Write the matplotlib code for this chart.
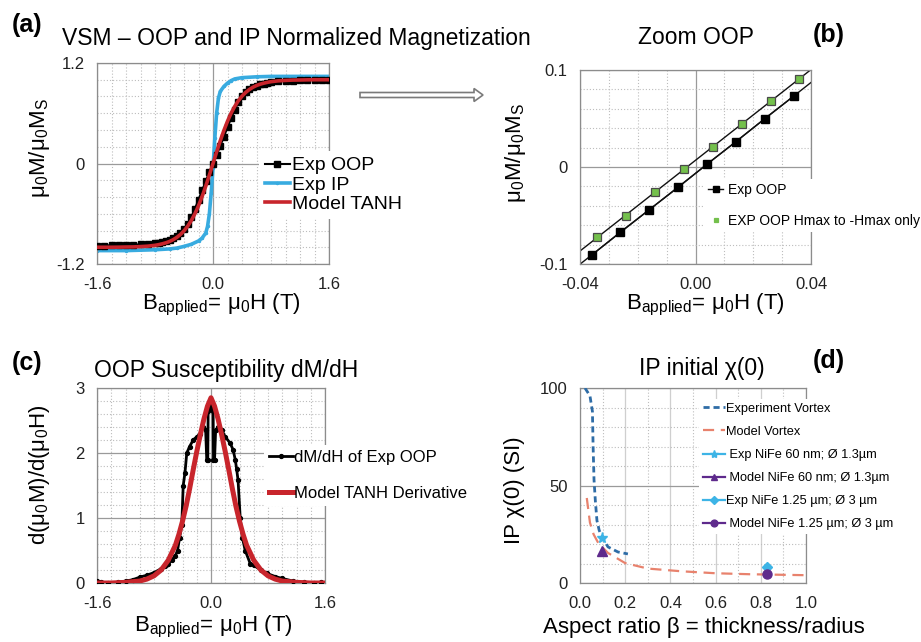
import numpy as np
import matplotlib
matplotlib.use('Agg')
import matplotlib.pyplot as plt
from matplotlib.patches import FancyArrow
from matplotlib.ticker import MultipleLocator

plt.rcParams['font.family'] = ['Liberation Sans', 'DejaVu Sans']
plt.rcParams['mathtext.fontset'] = 'custom'
plt.rcParams['mathtext.rm'] = 'Liberation Sans'
plt.rcParams['mathtext.it'] = 'Liberation Sans:italic'
plt.rcParams['mathtext.bf'] = 'Liberation Sans:bold'

# ---------------- data ----------------
# (a) normalized magnetization
B_a = [-1.6, -1.5, -1.4, -1.3, -1.2, -1.1, -1.0, -0.9, -0.8, -0.75, -0.7, -0.65, -0.6, -0.55,
       -0.5, -0.45, -0.4, -0.35, -0.3, -0.25, -0.2, -0.15, -0.1, -0.05, 0.0, 0.05, 0.1, 0.15,
       0.2, 0.25, 0.3, 0.35, 0.4, 0.45, 0.5, 0.55, 0.6, 0.65, 0.7, 0.75, 0.8, 0.9, 1.0, 1.1,
       1.2, 1.3, 1.4, 1.5, 1.6]
M_exp_oop = [-0.98, -0.98, -0.975, -0.975, -0.97, -0.97, -0.965, -0.96, -0.95, -0.945, -0.935,
             -0.925, -0.91, -0.89, -0.865, -0.83, -0.78, -0.72, -0.64, -0.54, -0.43, -0.32,
             -0.21, -0.10, 0.0, 0.10, 0.21, 0.32, 0.43, 0.54, 0.64, 0.73, 0.80, 0.85, 0.885,
             0.91, 0.93, 0.945, 0.955, 0.965, 0.97, 0.98, 0.985, 0.99, 0.995, 1.0, 1.0, 1.0, 1.0]
M_model_tanh = [-1.0, -1.0, -1.0, -0.999, -0.997, -0.996, -0.992, -0.987, -0.977, -0.969, -0.959,
                -0.947, -0.931, -0.910, -0.883, -0.848, -0.804, -0.750, -0.682, -0.601, -0.505,
                -0.394, -0.271, -0.138, 0.0, 0.138, 0.271, 0.394, 0.505, 0.601, 0.682, 0.750,
                0.804, 0.848, 0.883, 0.910, 0.931, 0.947, 0.959, 0.969, 0.977, 0.987, 0.992,
                0.996, 0.997, 0.999, 1.0, 1.0, 1.0]
B_ip = [-1.6, -1.2, -0.8, -0.6, -0.5, -0.4, -0.3, -0.2, -0.15, -0.1, -0.075, -0.05, -0.025, 0.0,
        0.025, 0.05, 0.075, 0.1, 0.15, 0.2, 0.25, 0.3, 0.4, 0.6, 0.8, 1.2, 1.6]
M_exp_ip = [-1.04, -1.04, -1.03, -1.02, -1.01, -0.99, -0.965, -0.925, -0.89, -0.83, -0.75, -0.6,
            -0.35, -0.05, 0.3, 0.6, 0.78, 0.86, 0.92, 0.96, 0.99, 1.01, 1.025, 1.035, 1.04, 1.04, 1.04]

# (b) zoom OOP
B_b_oop = [-0.036, -0.026, -0.016, -0.006, 0.004, 0.014, 0.024, 0.034]
M_b_oop = [-0.091, -0.067, -0.044, -0.021, 0.003, 0.026, 0.050, 0.073]
B_b_hmax = [-0.034, -0.024, -0.014, -0.004, 0.006, 0.016, 0.026, 0.036]
M_b_hmax = [-0.072, -0.050, -0.026, -0.002, 0.021, 0.044, 0.068, 0.091]

# (c) susceptibility
B_c = [-1.6, -1.55, -1.45, -1.3, -1.2, -1.1, -1.0, -0.9, -0.8, -0.7, -0.65, -0.6, -0.55, -0.5,
       -0.47, -0.44, -0.41, -0.39, -0.365, -0.34, -0.3, -0.25, -0.2, -0.15, -0.11, -0.075,
       -0.06, -0.045, -0.04, -0.02, 0.0, 0.02, 0.03, 0.035, 0.05, 0.065, 0.1, 0.15, 0.2, 0.27,
       0.31, 0.34, 0.36, 0.38, 0.41, 0.44, 0.48, 0.55, 0.6, 0.7, 0.78, 0.9, 1.0, 1.15, 1.3,
       1.45, 1.55]
dM_exp = [0.03, 0.02, 0.0, 0.01, 0.03, 0.05, 0.09, 0.12, 0.16, 0.22, 0.26, 0.30, 0.36, 0.42,
          0.50, 0.70, 0.90, 1.50, 1.70, 2.00, 2.10, 2.20, 2.25, 2.30, 2.40, 2.35, 1.90, 1.90,
          2.65, 2.75, 2.70, 2.75, 2.65, 1.90, 1.90, 2.35, 2.40, 2.35, 2.25, 2.15, 2.05, 1.90,
          1.75, 1.58, 1.00, 0.70, 0.50, 0.30, 0.27, 0.20, 0.15, 0.10, 0.07, 0.03, 0.01, 0.0, 0.01]
B_cm = [-1.6, -1.4, -1.2, -1.0, -0.9, -0.8, -0.7, -0.6, -0.5, -0.45, -0.4, -0.35, -0.3, -0.25,
        -0.2, -0.15, -0.1, -0.05, 0.0, 0.05, 0.1, 0.15, 0.2, 0.25, 0.3, 0.35, 0.4, 0.45, 0.5,
        0.6, 0.7, 0.8, 0.9, 1.0, 1.2, 1.4, 1.6]
dM_model = [0.0, 0.0, 0.01, 0.03, 0.06, 0.11, 0.20, 0.35, 0.58, 0.75, 0.95, 1.18, 1.45, 1.74,
            2.02, 2.28, 2.52, 2.72, 2.85, 2.72, 2.52, 2.28, 2.02, 1.74, 1.45, 1.18, 0.95, 0.75,
            0.58, 0.35, 0.20, 0.11, 0.06, 0.03, 0.01, 0.0, 0.0]

# (d) IP initial susceptibility
beta_exp_vortex = [0.022, 0.044, 0.055, 0.058, 0.062, 0.068, 0.075, 0.085, 0.097, 0.124, 0.168, 0.212]
chi_exp_vortex = [100, 96, 88, 70, 53, 42, 32, 27, 23.6, 18.5, 15.9, 14.9]
beta_model_vortex = [0.03, 0.044, 0.06, 0.081, 0.124, 0.2, 0.3, 0.45, 0.6, 0.75, 0.9, 1.0]
chi_model_vortex = [43.6, 31, 25, 20.5, 15.4, 10.2, 7.4, 6.0, 5.0, 4.5, 4.2, 4.0]
beta_60 = [0.097]
chi_exp_60 = [23.0]
chi_model_60 = [16.4]
beta_125 = [0.826]
chi_exp_125 = [8.4]
chi_model_125 = [4.6]

# ---------------- figure ----------------
W, H = 921, 642
fig = plt.figure(figsize=(W / 100, H / 100), dpi=100)


def ax_at(l, t, r, b):
    return fig.add_axes([l / W, 1 - b / H, (r - l) / W, (b - t) / H])


def style(ax, xmaj, xmin, ymaj, ymin):
    ax.set_xticks(xmaj)
    ax.set_yticks(ymaj)
    ax.xaxis.set_minor_locator(MultipleLocator(xmin))
    ax.yaxis.set_minor_locator(MultipleLocator(ymin))
    ax.set_axisbelow(True)
    ax.grid(which='major', color='#9a9a9a', lw=0.9, ls='-')
    ax.grid(which='minor', color='#bdbdbd', lw=0.8, ls=(0, (1, 1.8)))
    ax.tick_params(which='both', length=0, labelsize=12, pad=9, colors='#222222')
    for s in ax.spines.values():
        s.set_color('#8c8c8c')
        s.set_linewidth(0.9)


def labels(ax, xl, yl, xc, yc):
    ax.set_xlabel(xl, fontsize=16)
    ax.set_ylabel(yl, fontsize=16)
    ax.xaxis.set_label_coords(*xc)
    ax.yaxis.set_label_coords(*yc)
    ax.xaxis.label.set_va('center')
    ax.yaxis.label.set_va('center')


def fpos(px, py):
    return (px / W, 1 - py / H)


RED = '#C8252C'
CYAN = '#38ABE0'
BLUE = '#2E6CA6'
SALMON = '#E8826D'
PURPLE = '#5E2A8C'
PTCYAN = '#3DB4E6'

xlab = r'$\mathregular{B_{applied}}$= $\mathregular{μ_0}$H (T)'
ylab_m = r'$\mathregular{μ_0M/μ_0M_S}$'

# ---- (a)
ax1 = ax_at(97, 63, 329, 264)
style(ax1, [-1.6, 0.0, 1.6], 0.2, [-1.2, 0, 1.2], 0.2)
ax1.set_xlim(-1.6, 1.6)
ax1.set_ylim(-1.2, 1.2)
ax1.set_xticklabels(['-1.6', '0.0', '1.6'])
ax1.set_yticklabels(['-1.2', '0', '1.2'])
ax1.plot(B_ip, M_exp_ip, '-', color=CYAN, lw=2.6, marker='.', ms=3, label='Exp IP', zorder=2)
ax1.plot(B_a, M_exp_oop, '-', color='black', lw=1.5, marker='s', ms=4, label='Exp OOP', zorder=3)
ax1.plot(B_a, M_model_tanh, '-', color=RED, lw=2.6, label='Model TANH', zorder=4)
h, l = ax1.get_legend_handles_labels()
order = [1, 0, 2]
ax1.legend([h[i] for i in order], [l[i] for i in order], loc='upper left',
           bbox_to_anchor=fpos(259, 151), bbox_transform=fig.transFigure,
           fontsize=14, frameon=True, facecolor='white', edgecolor='none', framealpha=1,
           borderpad=0.3, borderaxespad=0, handlelength=1.3, handletextpad=0.1,
           labelspacing=0.08, fancybox=False)
labels(ax1, xlab, ylab_m, (0.537, -0.204), (-0.246, 0.577))

# ---- (b)
ax2 = ax_at(580, 70, 811, 264)
style(ax2, [-0.04, 0.0, 0.04], 0.01, [-0.1, 0, 0.1], 0.02)
ax2.set_xlim(-0.04, 0.04)
ax2.set_ylim(-0.1, 0.1)
ax2.set_xticklabels(['-0.04', '0.00', '0.04'])
ax2.set_yticklabels(['-0.1', '0', '0.1'])
xfit = np.array([-0.045, 0.045])
p_oop = np.polyfit(B_b_oop, M_b_oop, 1)
p_hmax = np.polyfit(B_b_hmax, M_b_hmax, 1)
ax2.plot(xfit, np.polyval(p_oop, xfit), '-', color='#111111', lw=1.0, zorder=2)
ax2.plot(xfit, np.polyval(p_hmax, xfit), '-', color='#111111', lw=1.0, zorder=2)
l_oop, = ax2.plot(B_b_oop, M_b_oop, ls='-', lw=1.0, color='#111111', marker='s', ms=5.5,
                  mfc='black', mec='black', label='Exp OOP', zorder=3)
l_hmax, = ax2.plot(B_b_hmax, M_b_hmax, ls='none', marker='s', ms=5.5, mfc='#74C04C',
                   mec='#4a4a4a', mew=0.9, label='EXP OOP Hmax to -Hmax only', zorder=3)
leg2 = ax2.legend(loc='upper left', bbox_to_anchor=fpos(704, 179), bbox_transform=fig.transFigure,
                  fontsize=10, frameon=True, facecolor='white', edgecolor='none', framealpha=1,
                  borderpad=0.3, borderaxespad=0, handlelength=1.1, handletextpad=0.3,
                  labelspacing=1.2, fancybox=False, markerscale=0.8)
leg2.legend_handles[1].set_markersize(3)
leg2.legend_handles[1].set_markeredgecolor('#74C04C')
labels(ax2, xlab, ylab_m, (0.541, -0.211), (-0.281, 0.572))

# ---- (c)
ax3 = ax_at(97, 388, 325, 583)
style(ax3, [-1.6, 0.0, 1.6], 0.2, [0, 1, 2, 3], 0.2)
ax3.set_xlim(-1.6, 1.6)
ax3.set_ylim(0, 3)
ax3.set_xticklabels(['-1.6', '0.0', '1.6'])
ax3.plot(B_c, dM_exp, '-', color='black', lw=2.0, marker='o', ms=2.8, label='dM/dH of Exp OOP', zorder=3)
ax3.plot(B_cm, dM_model, '-', color=RED, lw=3.6, label='Model TANH Derivative', zorder=4)
ax3.legend(loc='upper left', bbox_to_anchor=fpos(264, 445), bbox_transform=fig.transFigure,
           fontsize=12, frameon=True, facecolor='white', edgecolor='none', framealpha=1,
           borderpad=0.3, borderaxespad=0, handlelength=1.45, handletextpad=0.05,
           labelspacing=1.23, fancybox=False)
labels(ax3, xlab, r'd($\mathregular{μ_0}$M)/d($\mathregular{μ_0}$H)', (0.509, -0.226), (-0.25, 0.554))

# ---- (d)
ax4 = ax_at(580, 388, 806, 583)
style(ax4, [0.0, 0.2, 0.4, 0.6, 0.8, 1.0], 0.1, [0, 50, 100], 10)
ax4.grid(which='major', axis='x', color='#cfcfcf', lw=0.9, ls='-')
ax4.set_xlim(0, 1.0)
ax4.set_ylim(0, 100)
ax4.set_xticklabels(['0.0', '0.2', '0.4', '0.6', '0.8', '1.0'])
ax4.plot(beta_exp_vortex, chi_exp_vortex, ls=(0, (2.2, 1.4)), color=BLUE, lw=2.0,
         label='Experiment Vortex', zorder=3)
ax4.plot(beta_model_vortex, chi_model_vortex, ls=(0, (5, 3)), color=SALMON, lw=1.6,
         label='Model Vortex', zorder=3)
ax4.plot(beta_60, chi_exp_60, '-', color=PTCYAN, lw=1.6, marker='*', ms=8,
         label=' Exp NiFe 60 nm; Ø 1.3µm', zorder=4)
ax4.plot(beta_60, chi_model_60, '-', color=PURPLE, lw=1.6, marker='^', ms=6.5,
         label=' Model NiFe 60 nm; Ø 1.3µm', zorder=4)
ax4.plot(beta_125, chi_exp_125, '-', color=PTCYAN, lw=1.6, marker='D', ms=5.5,
         label='Exp NiFe 1.25 µm; Ø 3 µm', zorder=4)
ax4.plot(beta_125, chi_model_125, '-', color=PURPLE, lw=1.6, marker='o', ms=6.5,
         label=' Model NiFe 1.25 µm; Ø 3 µm', zorder=5)
ax4.legend(loc='upper left', bbox_to_anchor=fpos(699, 399), bbox_transform=fig.transFigure,
           fontsize=9.2, frameon=True, facecolor='white', edgecolor='none', framealpha=1,
           borderpad=0.3, borderaxespad=0, handlelength=1.7, handletextpad=0.15,
           labelspacing=0.87, fancybox=False, markerscale=0.75)
labels(ax4, 'Aspect ratio β = thickness/radius', 'IP χ(0) (SI)', (0.549, -0.23), (-0.288, 0.477))

# ---- titles and panel letters
fig.text(296 / W, 1 - 45 / H, 'VSM – OOP and IP Normalized Magnetization', fontsize=16.5,
         ha='center', va='baseline')
fig.text(696 / W, 1 - 44 / H, 'Zoom OOP', fontsize=16.5, ha='center', va='baseline')
fig.text(226 / W, 1 - 377 / H, 'OOP Susceptibility dM/dH', fontsize=16.5, ha='center', va='baseline')
fig.text(702 / W, 1 - 375 / H, 'IP initial χ(0)', fontsize=16.5, ha='center', va='baseline')
for txt, x, y in [('(a)', 12, 32), ('(b)', 813, 42), ('(c)', 12, 370), ('(d)', 813, 368)]:
    fig.text(x / W, 1 - y / H, txt, fontsize=18, fontweight='bold', ha='left', va='baseline')

# ---- hollow arrow between (a) and (b)
arr = FancyArrow(3.60, (H - 95) / 100, 1.23, 0, width=0.05, head_width=0.13, head_length=0.09,
                 length_includes_head=True, fc='white', ec='#7a7a7a', lw=1.2,
                 transform=fig.dpi_scale_trans)
fig.add_artist(arr)

fig.savefig('out.png', dpi=100)
